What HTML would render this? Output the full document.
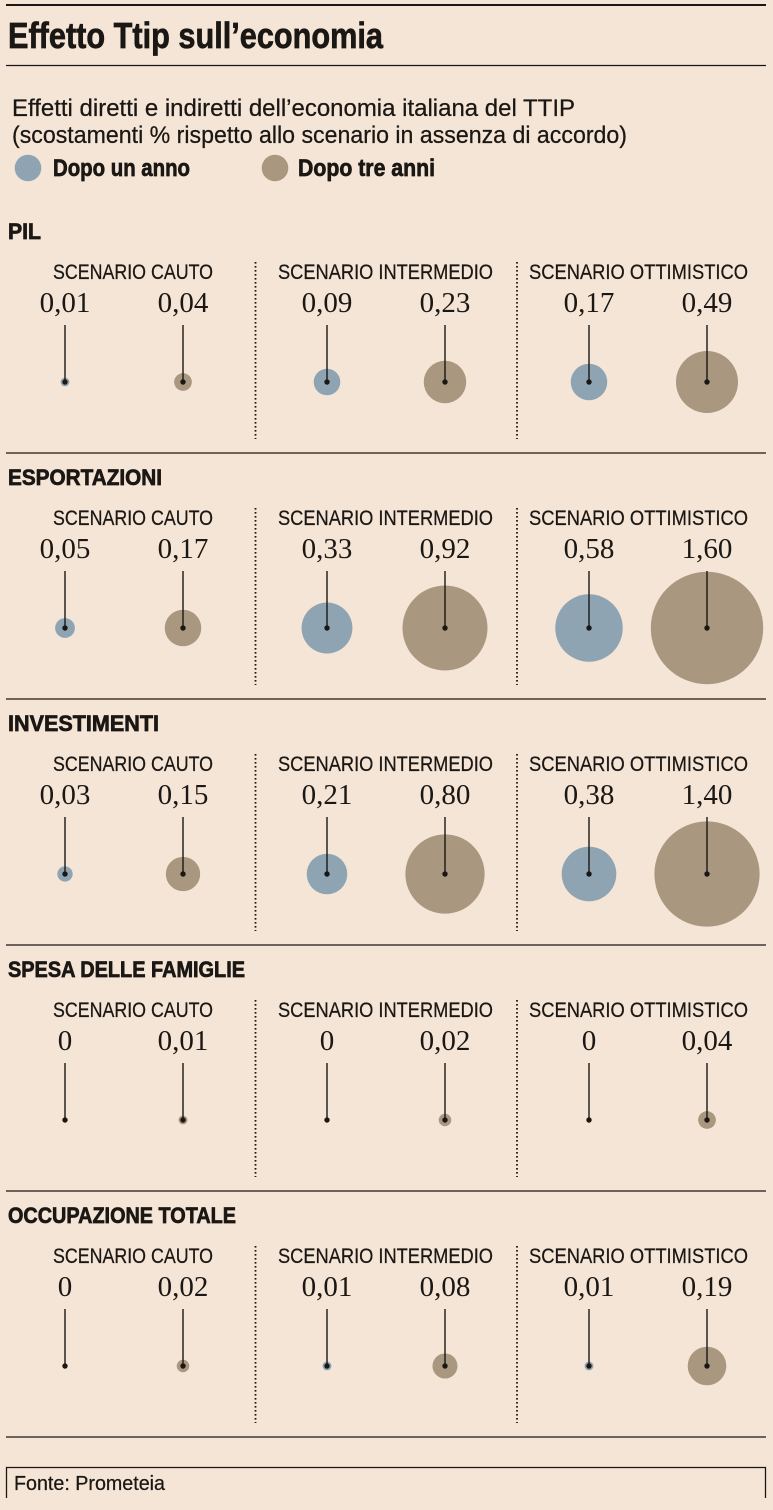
<!DOCTYPE html>
<html>
<head>
<meta charset="utf-8">
<style>
html,body{margin:0;padding:0;background:#f5e5d6;}
svg{display:block;}
.sans{font-family:"Liberation Sans Narrow","Liberation Sans",sans-serif;fill:#1a1714;stroke:#1a1714;stroke-width:0.25;}
.b{font-weight:bold;stroke-width:0.7;}
.ser{font-family:"Liberation Serif",serif;fill:#1a1714;font-size:29px;text-anchor:middle;}
.bl{fill:#8ea4b2;}
.br{fill:#a9977f;}
</style>
</head>
<body>
<svg width="773" height="1510" viewBox="0 0 773 1510" xmlns="http://www.w3.org/2000/svg">
<rect x="0" y="0" width="773" height="1510" fill="#f5e5d6"/>
<!-- header -->
<line x1="6" y1="5" x2="766" y2="5" stroke="#1a1714" stroke-width="2"/>
<text class="sans b" x="8" y="48" font-size="36" textLength="375" lengthAdjust="spacingAndGlyphs">Effetto Ttip sull’economia</text>
<line x1="6" y1="65.5" x2="766" y2="65.5" stroke="#1a1714" stroke-width="1.3"/>
<text class="sans" x="12" y="116" font-size="24" textLength="563" lengthAdjust="spacingAndGlyphs">Effetti diretti e indiretti dell’economia italiana del TTIP</text>
<text class="sans" x="12" y="143" font-size="24" textLength="615" lengthAdjust="spacingAndGlyphs">(scostamenti % rispetto allo scenario in assenza di accordo)</text>
<circle cx="28" cy="168" r="13.3" class="bl"/>
<text class="sans b" x="53" y="176" font-size="24" textLength="137" lengthAdjust="spacingAndGlyphs">Dopo un anno</text>
<circle cx="275" cy="168" r="13.3" class="br"/>
<text class="sans b" x="298" y="176" font-size="24" textLength="137" lengthAdjust="spacingAndGlyphs">Dopo tre anni</text>

<!-- PIL -->
<g transform="translate(0,0)">
<text class="sans b" x="8" y="239" font-size="22" textLength="33" lengthAdjust="spacingAndGlyphs">PIL</text>
<text class="sans" x="53" y="279" font-size="21" textLength="160" lengthAdjust="spacingAndGlyphs">SCENARIO CAUTO</text>
<text class="sans" x="278" y="279" font-size="21" textLength="215" lengthAdjust="spacingAndGlyphs">SCENARIO INTERMEDIO</text>
<text class="sans" x="529" y="279" font-size="21" textLength="219" lengthAdjust="spacingAndGlyphs">SCENARIO OTTIMISTICO</text>
<line x1="255.5" y1="262" x2="255.5" y2="439" stroke="#1a1714" stroke-width="1.8" stroke-dasharray="1.6,2.4"/>
<line x1="517" y1="262" x2="517" y2="439" stroke="#1a1714" stroke-width="1.8" stroke-dasharray="1.6,2.4"/>
<text class="ser" x="65" y="312">0,01</text>
<text class="ser" x="183" y="312">0,04</text>
<text class="ser" x="327" y="312">0,09</text>
<text class="ser" x="445" y="312">0,23</text>
<text class="ser" x="589" y="312">0,17</text>
<text class="ser" x="707" y="312">0,49</text>
<circle cx="65" cy="382" r="4.43" class="bl"/>
<circle cx="183" cy="382" r="8.86" class="br"/>
<circle cx="327" cy="382" r="13.29" class="bl"/>
<circle cx="445" cy="382" r="21.25" class="br"/>
<circle cx="589" cy="382" r="18.27" class="bl"/>
<circle cx="707" cy="382" r="31.01" class="br"/>
<g stroke="#1a1714" stroke-width="1.4">
<line x1="65" y1="325" x2="65" y2="382"/><line x1="183" y1="325" x2="183" y2="382"/><line x1="327" y1="325" x2="327" y2="382"/><line x1="445" y1="325" x2="445" y2="382"/><line x1="589" y1="325" x2="589" y2="382"/><line x1="707" y1="325" x2="707" y2="382"/>
</g>
<g fill="#1a1714">
<circle cx="65" cy="382" r="2.7"/><circle cx="183" cy="382" r="2.7"/><circle cx="327" cy="382" r="2.7"/><circle cx="445" cy="382" r="2.7"/><circle cx="589" cy="382" r="2.7"/><circle cx="707" cy="382" r="2.7"/>
</g>
<line x1="6" y1="453" x2="766" y2="453" stroke="#1a1714" stroke-width="1.3"/>
</g>

<!-- ESPORTAZIONI -->
<g transform="translate(0,246)">
<text class="sans b" x="8" y="239" font-size="22" textLength="154" lengthAdjust="spacingAndGlyphs">ESPORTAZIONI</text>
<text class="sans" x="53" y="279" font-size="21" textLength="160" lengthAdjust="spacingAndGlyphs">SCENARIO CAUTO</text>
<text class="sans" x="278" y="279" font-size="21" textLength="215" lengthAdjust="spacingAndGlyphs">SCENARIO INTERMEDIO</text>
<text class="sans" x="529" y="279" font-size="21" textLength="219" lengthAdjust="spacingAndGlyphs">SCENARIO OTTIMISTICO</text>
<line x1="255.5" y1="262" x2="255.5" y2="439" stroke="#1a1714" stroke-width="1.8" stroke-dasharray="1.6,2.4"/>
<line x1="517" y1="262" x2="517" y2="439" stroke="#1a1714" stroke-width="1.8" stroke-dasharray="1.6,2.4"/>
<text class="ser" x="65" y="312">0,05</text>
<text class="ser" x="183" y="312">0,17</text>
<text class="ser" x="327" y="312">0,33</text>
<text class="ser" x="445" y="312">0,92</text>
<text class="ser" x="589" y="312">0,58</text>
<text class="ser" x="707" y="312">1,60</text>
<circle cx="65" cy="382" r="9.91" class="bl"/>
<circle cx="183" cy="382" r="18.27" class="br"/>
<circle cx="327" cy="382" r="25.45" class="bl"/>
<circle cx="445" cy="382" r="42.49" class="br"/>
<circle cx="589" cy="382" r="33.74" class="bl"/>
<circle cx="707" cy="382" r="56.2" class="br"/>
<g stroke="#1a1714" stroke-width="1.4">
<line x1="65" y1="325" x2="65" y2="382"/><line x1="183" y1="325" x2="183" y2="382"/><line x1="327" y1="325" x2="327" y2="382"/><line x1="445" y1="325" x2="445" y2="382"/><line x1="589" y1="325" x2="589" y2="382"/><line x1="707" y1="325" x2="707" y2="382"/>
</g>
<g fill="#1a1714">
<circle cx="65" cy="382" r="2.7"/><circle cx="183" cy="382" r="2.7"/><circle cx="327" cy="382" r="2.7"/><circle cx="445" cy="382" r="2.7"/><circle cx="589" cy="382" r="2.7"/><circle cx="707" cy="382" r="2.7"/>
</g>
<line x1="6" y1="453" x2="766" y2="453" stroke="#1a1714" stroke-width="1.3"/>
</g>

<!-- INVESTIMENTI -->
<g transform="translate(0,492)">
<text class="sans b" x="8" y="239" font-size="22" textLength="151" lengthAdjust="spacingAndGlyphs">INVESTIMENTI</text>
<text class="sans" x="53" y="279" font-size="21" textLength="160" lengthAdjust="spacingAndGlyphs">SCENARIO CAUTO</text>
<text class="sans" x="278" y="279" font-size="21" textLength="215" lengthAdjust="spacingAndGlyphs">SCENARIO INTERMEDIO</text>
<text class="sans" x="529" y="279" font-size="21" textLength="219" lengthAdjust="spacingAndGlyphs">SCENARIO OTTIMISTICO</text>
<line x1="255.5" y1="262" x2="255.5" y2="439" stroke="#1a1714" stroke-width="1.8" stroke-dasharray="1.6,2.4"/>
<line x1="517" y1="262" x2="517" y2="439" stroke="#1a1714" stroke-width="1.8" stroke-dasharray="1.6,2.4"/>
<text class="ser" x="65" y="312">0,03</text>
<text class="ser" x="183" y="312">0,15</text>
<text class="ser" x="327" y="312">0,21</text>
<text class="ser" x="445" y="312">0,80</text>
<text class="ser" x="589" y="312">0,38</text>
<text class="ser" x="707" y="312">1,40</text>
<circle cx="65" cy="382" r="7.67" class="bl"/>
<circle cx="183" cy="382" r="17.16" class="br"/>
<circle cx="327" cy="382" r="20.3" class="bl"/>
<circle cx="445" cy="382" r="39.62" class="br"/>
<circle cx="589" cy="382" r="27.31" class="bl"/>
<circle cx="707" cy="382" r="52.6" class="br"/>
<g stroke="#1a1714" stroke-width="1.4">
<line x1="65" y1="325" x2="65" y2="382"/><line x1="183" y1="325" x2="183" y2="382"/><line x1="327" y1="325" x2="327" y2="382"/><line x1="445" y1="325" x2="445" y2="382"/><line x1="589" y1="325" x2="589" y2="382"/><line x1="707" y1="325" x2="707" y2="382"/>
</g>
<g fill="#1a1714">
<circle cx="65" cy="382" r="2.7"/><circle cx="183" cy="382" r="2.7"/><circle cx="327" cy="382" r="2.7"/><circle cx="445" cy="382" r="2.7"/><circle cx="589" cy="382" r="2.7"/><circle cx="707" cy="382" r="2.7"/>
</g>
<line x1="6" y1="453" x2="766" y2="453" stroke="#1a1714" stroke-width="1.3"/>
</g>

<!-- SPESA DELLE FAMIGLIE -->
<g transform="translate(0,738)">
<text class="sans b" x="8" y="239" font-size="22" textLength="237" lengthAdjust="spacingAndGlyphs">SPESA DELLE FAMIGLIE</text>
<text class="sans" x="53" y="279" font-size="21" textLength="160" lengthAdjust="spacingAndGlyphs">SCENARIO CAUTO</text>
<text class="sans" x="278" y="279" font-size="21" textLength="215" lengthAdjust="spacingAndGlyphs">SCENARIO INTERMEDIO</text>
<text class="sans" x="529" y="279" font-size="21" textLength="219" lengthAdjust="spacingAndGlyphs">SCENARIO OTTIMISTICO</text>
<line x1="255.5" y1="262" x2="255.5" y2="439" stroke="#1a1714" stroke-width="1.8" stroke-dasharray="1.6,2.4"/>
<line x1="517" y1="262" x2="517" y2="439" stroke="#1a1714" stroke-width="1.8" stroke-dasharray="1.6,2.4"/>
<text class="ser" x="65" y="312">0</text>
<text class="ser" x="183" y="312">0,01</text>
<text class="ser" x="327" y="312">0</text>
<text class="ser" x="445" y="312">0,02</text>
<text class="ser" x="589" y="312">0</text>
<text class="ser" x="707" y="312">0,04</text>
<circle cx="183" cy="382" r="4.43" class="br"/>
<circle cx="445" cy="382" r="6.26" class="br"/>
<circle cx="707" cy="382" r="8.86" class="br"/>
<g stroke="#1a1714" stroke-width="1.4">
<line x1="65" y1="325" x2="65" y2="382"/><line x1="183" y1="325" x2="183" y2="382"/><line x1="327" y1="325" x2="327" y2="382"/><line x1="445" y1="325" x2="445" y2="382"/><line x1="589" y1="325" x2="589" y2="382"/><line x1="707" y1="325" x2="707" y2="382"/>
</g>
<g fill="#1a1714">
<circle cx="65" cy="382" r="2.7"/><circle cx="183" cy="382" r="2.7"/><circle cx="327" cy="382" r="2.7"/><circle cx="445" cy="382" r="2.7"/><circle cx="589" cy="382" r="2.7"/><circle cx="707" cy="382" r="2.7"/>
</g>
<line x1="6" y1="453" x2="766" y2="453" stroke="#1a1714" stroke-width="1.3"/>
</g>

<!-- OCCUPAZIONE TOTALE -->
<g transform="translate(0,984)">
<text class="sans b" x="8" y="239" font-size="22" textLength="228" lengthAdjust="spacingAndGlyphs">OCCUPAZIONE TOTALE</text>
<text class="sans" x="53" y="279" font-size="21" textLength="160" lengthAdjust="spacingAndGlyphs">SCENARIO CAUTO</text>
<text class="sans" x="278" y="279" font-size="21" textLength="215" lengthAdjust="spacingAndGlyphs">SCENARIO INTERMEDIO</text>
<text class="sans" x="529" y="279" font-size="21" textLength="219" lengthAdjust="spacingAndGlyphs">SCENARIO OTTIMISTICO</text>
<line x1="255.5" y1="262" x2="255.5" y2="439" stroke="#1a1714" stroke-width="1.8" stroke-dasharray="1.6,2.4"/>
<line x1="517" y1="262" x2="517" y2="439" stroke="#1a1714" stroke-width="1.8" stroke-dasharray="1.6,2.4"/>
<text class="ser" x="65" y="312">0</text>
<text class="ser" x="183" y="312">0,02</text>
<text class="ser" x="327" y="312">0,01</text>
<text class="ser" x="445" y="312">0,08</text>
<text class="ser" x="589" y="312">0,01</text>
<text class="ser" x="707" y="312">0,19</text>
<circle cx="183" cy="382" r="6.26" class="br"/>
<circle cx="327" cy="382" r="4.43" class="bl"/>
<circle cx="445" cy="382" r="12.53" class="br"/>
<circle cx="589" cy="382" r="4.43" class="bl"/>
<circle cx="707" cy="382" r="19.31" class="br"/>
<g stroke="#1a1714" stroke-width="1.4">
<line x1="65" y1="325" x2="65" y2="382"/><line x1="183" y1="325" x2="183" y2="382"/><line x1="327" y1="325" x2="327" y2="382"/><line x1="445" y1="325" x2="445" y2="382"/><line x1="589" y1="325" x2="589" y2="382"/><line x1="707" y1="325" x2="707" y2="382"/>
</g>
<g fill="#1a1714">
<circle cx="65" cy="382" r="2.7"/><circle cx="183" cy="382" r="2.7"/><circle cx="327" cy="382" r="2.7"/><circle cx="445" cy="382" r="2.7"/><circle cx="589" cy="382" r="2.7"/><circle cx="707" cy="382" r="2.7"/>
</g>
<line x1="6" y1="453" x2="766" y2="453" stroke="#1a1714" stroke-width="1.3"/>
</g>

<!-- footer -->
<path d="M6.5 1498 V1467.5 H765.5 V1498" fill="none" stroke="#1a1714" stroke-width="1.3"/>
<text class="sans" x="14" y="1490" font-size="20" textLength="151" lengthAdjust="spacingAndGlyphs">Fonte: Prometeia</text>
</svg>
</body>
</html>
